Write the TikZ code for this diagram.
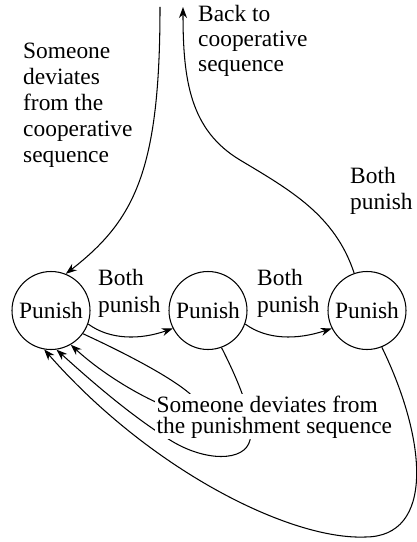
\documentclass[tikz,border=0pt]{standalone}
\usepackage{fontspec}
\setmainfont{Liberation Serif}
\usetikzlibrary{arrows.meta}
\begin{document}
\begin{tikzpicture}[x=1bp,y=-1bp,
  state/.style={circle,draw,line width=1.05bp,minimum size=78bp,inner sep=0pt,font=\fontsize{23.5}{26}\selectfont},
  arr/.style={line width=1.05bp,-{Stealth[length=11bp,width=8bp,inset=3.5bp]}},
  lbl/.style={anchor=base west,align=left,inner sep=0pt},
  lf/.style={font=\fontsize{23.5}{#1}\selectfont}]
\useasboundingbox (0,0) rectangle (416,542);
\node[state] (P1) at (51,310.5) {Punish};
\node[state] (P2) at (208,310.5) {Punish};
\node[state] (P3) at (367,310.5) {Punish};
\coordinate (inTop) at (160,7);
\coordinate (outTop) at (183,7);
% incoming and outgoing
\draw[arr] (inTop) .. controls (160,170) and (135,220) .. (P1.68);
\draw[arr] (P3.109) .. controls (335,215) and (290,190) .. (240,160) .. controls (190,130) and (183,80) .. (outTop);
% forward
\draw[arr] (P1.-20) .. controls (110,340) and (140,340) .. (P2.-153);
\draw[arr] (P2.-20) .. controls (267,340) and (297,340) .. (P3.-153);
% back loops
\draw[arr] (P1.-36) .. controls (140,360) and (205,395) .. (200,410) .. controls (195,425) and (120,390) .. (P1.-60);
\draw[arr] (P2.-70) .. controls (238,380) and (255,420) .. (250,440) .. controls (245,462) and (205,462) .. (170,440) .. controls (130,415) and (90,380) .. (P1.-82);
\draw[arr] (P3.-68) .. controls (427,440) and (435,537) .. (365,537) .. controls (290,540) and (150,470) .. (P1.-100);
% labels
\node[lbl,lf=26.3] (l1) at (23,163) {Someone\\deviates\\from the\\cooperative\\sequence};
\node[lbl,lf=25.5] (l2) at (198,72) {Back to\\cooperative\\sequence};
\node[lbl,lf=27] (l3) at (350,210) {Both\\punish};
\node[lbl,lf=27] (l4) at (98,312) {Both\\punish};
\node[lbl,lf=27] (l5) at (257,312) {Both\\punish};
\node[lbl,lf=21,fill=white,inner sep=1.5bp] (l6) at (155,433) {Someone deviates from\\the punishment sequence};
\end{tikzpicture}
\end{document}
